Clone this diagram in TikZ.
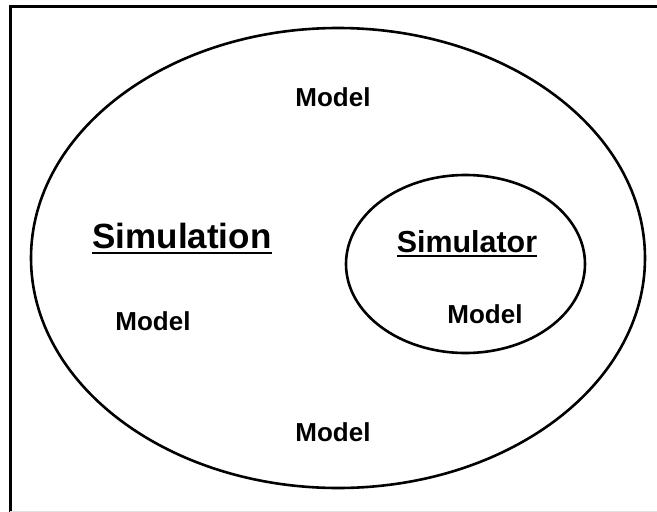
\documentclass[tikz,border=0pt]{standalone}
\usepackage{fontspec}
\setmainfont{Liberation Sans}
\usetikzlibrary{shapes.geometric}
\begin{document}
\begin{tikzpicture}[x=1pt,y=-1pt,
  ring/.style={draw=black,line width=2.6pt},
  frame/.style={draw=black,line width=3pt},
  label/.style={inner sep=0pt,anchor=base,font=\bfseries\fontsize{26}{30}\selectfont},
  title/.style={inner sep=0pt,anchor=base},
  uline/.style={draw=black,line width=1.8pt}]
  \useasboundingbox (0,0) rectangle (657,512);
  % open frame: top and left edges, faint base line
  \draw[frame] (10.5,512) -- (10.5,6) -- (657,6);
  \draw[draw=black!12,line width=1pt] (10,511) -- (657,511);
  % the two nested regions
  \node[ring,ellipse,minimum width=614pt,minimum height=460pt,inner sep=0pt] (outer) at (338,258) {};
  \node[ring,ellipse,minimum width=239pt,minimum height=178pt,inner sep=0pt] (inner) at (465.5,264) {};
  % headings, underlined
  \node[title,font=\bfseries\fontsize{35}{40}\selectfont] (simn) at (182,248) {Simulation};
  \draw[uline] ([yshift=-5pt]simn.base west) -- ([yshift=-5pt]simn.base east);
  \node[title,font=\bfseries\fontsize{30.4}{36}\selectfont] (simr) at (467,252) {Simulator};
  \draw[uline] ([yshift=-4pt]simr.base west) -- ([yshift=-4pt]simr.base east);
  % model labels
  \node[label] (mtop) at (333,106) {Model};
  \node[label] (mleft) at (153,330) {Model};
  \node[label] (minner) at (485,323) {Model};
  \node[label] (mbottom) at (333,441) {Model};
\end{tikzpicture}
\end{document}
